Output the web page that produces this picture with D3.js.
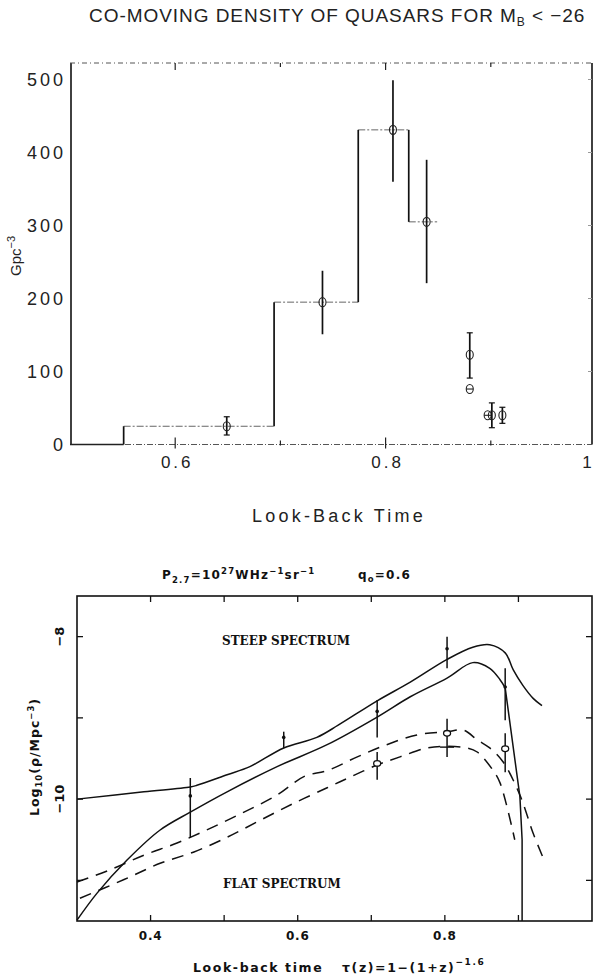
<!DOCTYPE html>
<html>
<head>
<meta charset="utf-8">
<script src="https://cdn.jsdelivr.net/npm/d3@7/dist/d3.min.js"></script>
<style>
  html, body { margin: 0; padding: 0; background: #fff; }
  svg { display: block; }
  .thin { font-family: "Liberation Sans", Arial, sans-serif; fill: #222; }
  .bold { font-family: "DejaVu Sans", sans-serif; font-weight: bold; fill: #111; }
</style>
</head>
<body>
<svg id="chart" width="595" height="976"></svg>
<script>
// ---- top panel: co-moving density histogram ----
const topXTicks = [0.6, 0.8, 1.0];
const topXLabels = ["0.6", "0.8", "1"];
const topXMinor = [0.6, 0.7, 0.8, 0.9];
const topYTicks = [0, 100, 200, 300, 400, 500];
const histEdges = [0.5, 0.551, 0.694, 0.774, 0.822, 0.849];
const histLevels = [0, 25, 195, 431, 305];
// t = look-back time, n = density, lo/hi = error bar ends, sym = marker kind
const qsoPoints = [
  { t: 0.649, n: 25,  lo: 13,  hi: 38,  sym: "o", cap: true },
  { t: 0.740, n: 195, lo: 151, hi: 238, sym: "o", cap: false },
  { t: 0.807, n: 431, lo: 360, hi: 499, sym: "o", cap: false },
  { t: 0.839, n: 305, lo: 221, hi: 390, sym: "o", cap: false },
  { t: 0.880, n: 123, lo: 91,  hi: 153, sym: "o", cap: true },
  { t: 0.880, n: 76,  sym: "theta" },
  { t: 0.897, n: 40,  sym: "theta" },
  { t: 0.901, n: 40,  lo: 23,  hi: 57,  sym: "o", cap: true },
  { t: 0.911, n: 40,  lo: 29,  hi: 51,  sym: "o", cap: true }
];

// ---- bottom panel: radio source densities ----
const botXTicks = [0.4, 0.5, 0.6, 0.7, 0.8, 0.9];
const botXLabels = [0.4, 0.6, 0.8];
const botYTicks = [-8, -9, -10, -11];
const botYLabels = [-8, -10];
const steepHigh = [
  [0.300, -10.00], [0.391, -9.91], [0.454, -9.85], [0.463, -9.83], [0.504, -9.70],
  [0.535, -9.60], [0.581, -9.37], [0.626, -9.24], [0.655, -9.09], [0.708, -8.79],
  [0.753, -8.56], [0.803, -8.28], [0.838, -8.13], [0.861, -8.10], [0.882, -8.20],
  [0.893, -8.41], [0.906, -8.60], [0.920, -8.76], [0.932, -8.85]
];
const steepLow = [
  [0.300, -11.49], [0.327, -11.16], [0.368, -10.75], [0.413, -10.38], [0.454, -10.16],
  [0.504, -9.91], [0.572, -9.60], [0.640, -9.33], [0.708, -8.99], [0.753, -8.74],
  [0.803, -8.51], [0.838, -8.32], [0.861, -8.39], [0.875, -8.53], [0.882, -8.63],
  [0.902, -9.97], [0.905, -10.50], [0.905, -11.50]
];
const steepLowBreak = 0.882; // past this the model drops in straight segments
const flatHigh = [
  [0.300, -11.02], [0.345, -10.87], [0.391, -10.69], [0.436, -10.54], [0.481, -10.36],
  [0.527, -10.16], [0.572, -9.95], [0.609, -9.72], [0.640, -9.65], [0.681, -9.48],
  [0.721, -9.33], [0.762, -9.21], [0.803, -9.17], [0.825, -9.15], [0.844, -9.27],
  [0.861, -9.37], [0.879, -9.54], [0.902, -9.95], [0.920, -10.42], [0.933, -10.71]
];
const flatLow = [
  [0.304, -11.22], [0.364, -10.99], [0.413, -10.79], [0.459, -10.65], [0.504, -10.47],
  [0.549, -10.26], [0.595, -10.05], [0.640, -9.86], [0.671, -9.73], [0.708, -9.58],
  [0.739, -9.48], [0.776, -9.37], [0.803, -9.35], [0.830, -9.37], [0.844, -9.42],
  [0.865, -9.64], [0.875, -9.80], [0.895, -10.50]
];
const steepPoints = [
  { t: 0.454, v: -9.96, lo: -10.47, hi: -9.74 },
  { t: 0.581, v: -9.24, lo: -9.37,  hi: -9.17 },
  { t: 0.708, v: -8.92, lo: -9.24,  hi: -8.78 },
  { t: 0.803, v: -8.15, lo: -8.39,  hi: -8.00 },
  { t: 0.882, v: -8.62, lo: -9.03,  hi: -8.39 }
];
const flatPoints = [
  { t: 0.708, v: -9.56, lo: -9.76, hi: -9.42 },
  { t: 0.803, v: -9.19, lo: -9.48, hi: -9.01, mark: -9.36 },
  { t: 0.882, v: -9.38, lo: -9.67, hi: -9.19 }
];

const svg = d3.select("#chart");

// ================= TOP PANEL =================
const tx = d3.scaleLinear().domain([0.5, 1.0]).range([70, 596]);
const ty = d3.scaleLinear().domain([0, 500]).range([444.5, 79.5]);
const topG = svg.append("g");
const frameRight = 592, frameTop = 63;

topG.append("text").attr("class", "thin")
  .attr("x", 89).attr("y", 22).style("font-size", "19px").style("letter-spacing", "0.95px")
  .call(t => {
    t.append("tspan").text("CO-MOVING DENSITY OF QUASARS FOR M");
    t.append("tspan").attr("dy", 4).style("font-size", "12px").text("B");
    t.append("tspan").attr("dy", -4).text(" <  \u221226");
  });

// frame: solid sides, dotted top and bottom
topG.append("line").attr("x1", tx(0.5) + 1).attr("x2", tx(0.5) + 1).attr("y1", frameTop).attr("y2", ty(0))
  .attr("stroke", "#111").attr("stroke-width", 1.6);
topG.append("line").attr("x1", frameRight).attr("x2", frameRight).attr("y1", frameTop).attr("y2", ty(0))
  .attr("stroke", "#111").attr("stroke-width", 1.6);
topG.append("line").attr("x1", tx(0.5)).attr("x2", frameRight).attr("y1", frameTop).attr("y2", frameTop)
  .attr("stroke", "#555").attr("stroke-width", 1).attr("stroke-dasharray", "5,3,1,3");
topG.append("line").attr("x1", tx(0.5)).attr("x2", frameRight).attr("y1", ty(0)).attr("y2", ty(0))
  .attr("stroke", "#555").attr("stroke-width", 1).attr("stroke-dasharray", "6,2,1,2");

// x ticks top and bottom
topG.selectAll(".tkTop").data(topXMinor).enter().append("line")
  .attr("x1", d => tx(d)).attr("x2", d => tx(d)).attr("y1", frameTop).attr("y2", d => frameTop + (d === 0.7 || d === 0.9 ? 4 : 7))
  .attr("stroke", "#222").attr("stroke-width", 1.2);
topG.selectAll(".tkBot").data(topXMinor).enter().append("line")
  .attr("x1", d => tx(d)).attr("x2", d => tx(d))
  .attr("y1", d => ty(0) - (d === 0.7 || d === 0.9 ? 4 : 7)).attr("y2", d => ty(0) + (d === 0.7 || d === 0.9 ? 1 : 4))
  .attr("stroke", "#222").attr("stroke-width", 1.2);
// faint y ticks on right
topG.selectAll(".tkR").data(topYTicks.slice(1)).enter().append("line")
  .attr("x1", frameRight - 4).attr("x2", frameRight).attr("y1", d => ty(d)).attr("y2", d => ty(d))
  .attr("stroke", "#999").attr("stroke-width", 1);

topG.selectAll(".ylab").data(topYTicks).enter().append("text").attr("class", "thin")
  .attr("x", 66).attr("y", d => ty(d) + 6.5).attr("text-anchor", "end")
  .style("font-size", "18px").style("letter-spacing", "3px").text(d => d);
// the last label sits at the page edge, so it is pulled inside
topG.selectAll(".xlab").data(topXTicks).enter().append("text").attr("class", "thin")
  .attr("x", (d, i) => i === 2 ? 587 : tx(d) + 2).attr("y", 468).attr("text-anchor", "middle")
  .style("font-size", "17px").style("letter-spacing", (d, i) => i === 2 ? "0px" : "3px")
  .text((d, i) => topXLabels[i]);

topG.append("text").attr("class", "thin").attr("x", 339).attr("y", 522).attr("text-anchor", "middle")
  .style("font-size", "18px").style("letter-spacing", "3.2px").text("Look-Back Time");

topG.append("text").attr("class", "thin")
  .attr("transform", "translate(21,256) rotate(-90)").attr("text-anchor", "middle")
  .style("font-size", "15px")
  .call(t => {
    t.append("tspan").text("Gpc");
    t.append("tspan").attr("dy", -6).style("font-size", "11px").text("\u22123");
  });

// histogram: dashed horizontals, solid risers
const hg = topG.append("g");
histLevels.forEach((lev, i) => {
  hg.append("line")
    .attr("x1", tx(histEdges[i])).attr("x2", tx(histEdges[i + 1]))
    .attr("y1", ty(lev)).attr("y2", ty(lev))
    .attr("stroke", i === 0 ? "#222" : "#666").attr("stroke-width", i === 0 ? 1.6 : 1)
    .attr("stroke-dasharray", i === 0 ? null : "7,2,2,2");
  if (i > 0) {
    hg.append("line")
      .attr("x1", tx(histEdges[i])).attr("x2", tx(histEdges[i]))
      .attr("y1", ty(histLevels[i - 1])).attr("y2", ty(lev))
      .attr("stroke", "#111").attr("stroke-width", 1.7);
  }
});

// points with error bars
const pg = topG.append("g");
qsoPoints.forEach(p => {
  const cx = tx(p.t), cy = ty(p.n);
  if (p.lo !== undefined) {
    pg.append("line").attr("x1", cx).attr("x2", cx).attr("y1", ty(p.lo)).attr("y2", ty(p.hi))
      .attr("stroke", "#111").attr("stroke-width", 1.7);
    if (p.cap) {
      [p.lo, p.hi].forEach(e => pg.append("line").attr("x1", cx - 3).attr("x2", cx + 3)
        .attr("y1", ty(e)).attr("y2", ty(e)).attr("stroke", "#111").attr("stroke-width", 1.2));
    }
  }
  pg.append("ellipse").attr("cx", cx).attr("cy", cy).attr("rx", 3.5).attr("ry", 4.5)
    .attr("fill", "none").attr("stroke", "#222").attr("stroke-width", 1.1);
  if (p.sym === "theta") {
    pg.append("line").attr("x1", cx - 3.5).attr("x2", cx + 3.5).attr("y1", cy).attr("y2", cy)
      .attr("stroke", "#222").attr("stroke-width", 1.1);
  }
});

// ================= BOTTOM PANEL =================
const bx = d3.scaleLinear().domain([0.3, 1.0]).range([77, 592]);
const by = d3.scaleLinear().domain([-11.5, -7.5]).range([921, 596]);
const botG = svg.append("g");

botG.append("text").attr("class", "bold").attr("x", 162).attr("y", 579)
  .style("font-size", "12px").style("letter-spacing", "1.2px")
  .call(t => {
    t.append("tspan").text("P");
    t.append("tspan").attr("dy", 4).style("font-size", "8.5px").text("2.7");
    t.append("tspan").attr("dy", -4).text("=10");
    t.append("tspan").attr("dy", -5).style("font-size", "8.5px").text("27");
    t.append("tspan").attr("dy", 5).text("WHz");
    t.append("tspan").attr("dy", -5).style("font-size", "8.5px").text("\u22121");
    t.append("tspan").attr("dy", 5).text("sr");
    t.append("tspan").attr("dy", -5).style("font-size", "8.5px").text("\u22121");
    t.append("tspan").attr("dy", 5).attr("x", 358).text("q");
    t.append("tspan").attr("dy", 3).style("font-size", "8.5px").text("o");
    t.append("tspan").attr("dy", -3).text("=0.6");
  });

botG.append("rect").attr("x", bx(0.3)).attr("y", by(-7.5))
  .attr("width", bx(1.0) - bx(0.3)).attr("height", by(-11.5) - by(-7.5))
  .attr("fill", "none").attr("stroke", "#111").attr("stroke-width", 1.6);

botG.selectAll(".bxt").data(botXTicks).enter().append("line")
  .attr("x1", d => bx(d)).attr("x2", d => bx(d)).attr("y1", by(-7.5)).attr("y2", by(-7.5) + 6)
  .attr("stroke", "#111").attr("stroke-width", 1.3);
botG.selectAll(".bxb").data(botXTicks).enter().append("line")
  .attr("x1", d => bx(d)).attr("x2", d => bx(d)).attr("y1", by(-11.5)).attr("y2", by(-11.5) - 6)
  .attr("stroke", "#111").attr("stroke-width", 1.3);
botG.selectAll(".byl").data(botYTicks).enter().append("line")
  .attr("x1", bx(0.3)).attr("x2", bx(0.3) + 6).attr("y1", d => by(d)).attr("y2", d => by(d))
  .attr("stroke", "#111").attr("stroke-width", 1.3);
botG.selectAll(".byr").data(botYTicks).enter().append("line")
  .attr("x1", bx(1.0)).attr("x2", bx(1.0) - 6).attr("y1", d => by(d)).attr("y2", d => by(d))
  .attr("stroke", "#111").attr("stroke-width", 1.3);

botG.selectAll(".bxlab").data(botXLabels).enter().append("text").attr("class", "bold")
  .attr("x", d => bx(d)).attr("y", 940).attr("text-anchor", "middle")
  .style("font-size", "12px").style("letter-spacing", "0.8px").text(d => d.toFixed(1));
botG.selectAll(".bylab").data(botYLabels).enter().append("text").attr("class", "bold")
  .attr("transform", d => `translate(64,${by(d)}) rotate(-90)`).attr("text-anchor", "middle")
  .style("font-size", "13px").text(d => "\u2212" + Math.abs(d));

botG.append("text").attr("class", "bold")
  .attr("transform", "translate(39,757) rotate(-90)").attr("text-anchor", "middle")
  .style("font-size", "12.5px").style("letter-spacing", "1px")
  .call(t => {
    t.append("tspan").text("Log");
    t.append("tspan").attr("dy", 3).style("font-size", "8.5px").text("10");
    t.append("tspan").attr("dy", -3).text("(\u03c1/Mpc");
    t.append("tspan").attr("dy", -5).style("font-size", "8.5px").text("\u22123");
    t.append("tspan").attr("dy", 5).text(")");
  });

botG.append("text").attr("class", "bold").attr("x", 193).attr("y", 972)
  .style("font-size", "12.5px").style("letter-spacing", "1.6px")
  .call(t => {
    t.append("tspan").text("Look-back time");
    t.append("tspan").attr("x", 342).text("\u03c4(z)=1\u2212(1+z)");
    t.append("tspan").attr("dy", -7).style("font-size", "9px").text("\u22121.6");
  });

botG.append("text").attr("class", "bold").attr("x", 222).attr("y", 645)
  .style("font-size", "12px").style("font-family", "'DejaVu Serif', serif").text("STEEP SPECTRUM");
botG.append("text").attr("class", "bold").attr("x", 223).attr("y", 888)
  .style("font-size", "12px").style("font-family", "'DejaVu Serif', serif").text("FLAT SPECTRUM");

const lineCR = d3.line().x(d => bx(d[0])).y(d => by(d[1])).curve(d3.curveCatmullRom.alpha(0.5));
const lineStraight = d3.line().x(d => bx(d[0])).y(d => by(d[1]));
const curves = botG.append("g").attr("fill", "none").attr("stroke", "#111").attr("stroke-width", 1.5);
curves.append("path").attr("d", lineCR(steepHigh));
curves.append("path").attr("d", lineCR(steepLow.filter(d => d[0] <= steepLowBreak)));
curves.append("path").attr("d", lineStraight(steepLow.filter(d => d[0] >= steepLowBreak)));
curves.append("path").attr("d", lineCR(flatHigh)).attr("stroke-dasharray", "12,8");
curves.append("path").attr("d", lineCR(flatLow)).attr("stroke-dasharray", "12,8");

const bp = botG.append("g");
steepPoints.forEach(p => {
  bp.append("line").attr("x1", bx(p.t)).attr("x2", bx(p.t)).attr("y1", by(p.lo)).attr("y2", by(p.hi))
    .attr("stroke", "#111").attr("stroke-width", 1.5);
  bp.append("circle").attr("cx", bx(p.t)).attr("cy", by(p.v)).attr("r", 1.8).attr("fill", "#111");
});
flatPoints.forEach(p => {
  bp.append("line").attr("x1", bx(p.t)).attr("x2", bx(p.t)).attr("y1", by(p.lo)).attr("y2", by(p.hi))
    .attr("stroke", "#111").attr("stroke-width", 1.5);
  if (p.mark !== undefined) {
    bp.append("line").attr("x1", bx(p.t) - 7).attr("x2", bx(p.t) + 7).attr("y1", by(p.mark)).attr("y2", by(p.mark))
      .attr("stroke", "#111").attr("stroke-width", 1.4);
  }
  bp.append("ellipse").attr("cx", bx(p.t)).attr("cy", by(p.v)).attr("rx", 3.5).attr("ry", 2.8)
    .attr("fill", "#fff").attr("stroke", "#111").attr("stroke-width", 1.3);
});
</script>
</body>
</html>
